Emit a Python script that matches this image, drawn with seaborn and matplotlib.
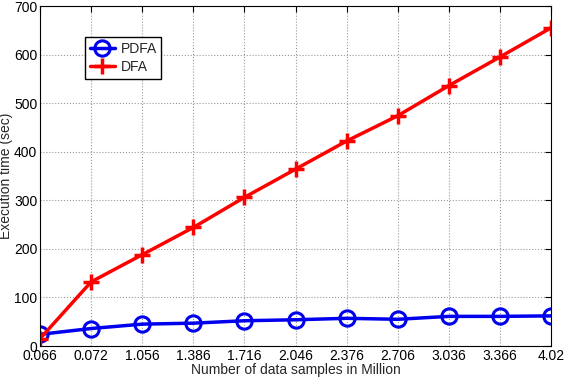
import matplotlib
matplotlib.use('Agg')
import matplotlib.pyplot as plt
import pandas as pd
import seaborn as sns

# Data
samples = ['0.066', '0.072', '1.056', '1.386', '1.716', '2.046',
           '2.376', '2.706', '3.036', '3.366', '4.02']
pdfa = [24, 36, 45, 47, 52, 54, 57, 55, 61, 61, 62]
dfa = [15, 132, 188, 244, 306, 364, 422, 474, 536, 595, 655]

df = pd.DataFrame({
    'pos': list(range(len(samples))) * 2,
    'time': pdfa + dfa,
    'method': ['PDFA'] * len(samples) + ['DFA'] * len(samples),
})

sns.set_style('white')
plt.rcParams['font.family'] = ['Liberation Sans', 'DejaVu Sans']

fig = plt.figure(figsize=(5.64, 3.78), dpi=100)
ax = fig.add_axes([40 / 564, 32 / 378, 511 / 564, 340 / 378])

sns.lineplot(data=df[df['method'] == 'PDFA'], x='pos', y='time',
             color='#0000ee', linewidth=2.5, marker='o', markersize=11,
             markerfacecolor='none', markeredgecolor='#0000ee', markeredgewidth=2.2,
             label='PDFA', ax=ax)
sns.lineplot(data=df[df['method'] == 'DFA'], x='pos', y='time',
             color='#ff0000', linewidth=2.5, marker='+', markersize=12,
             markeredgecolor='#ff0000', markeredgewidth=2.5, label='DFA', ax=ax)

ax.set_xlim(0, len(samples) - 1)
ax.set_ylim(0, 700)
ax.set_xticks(range(len(samples)))
ax.set_xticklabels(samples)
ax.set_yticks(range(0, 701, 100))
ax.tick_params(axis='both', labelsize=10, direction='in', length=4,
               top=True, right=True, pad=2, colors='black')
ax.grid(True, linestyle=':', color='#999999', linewidth=0.8)
for s in ax.spines.values():
    s.set_color('black')
    s.set_linewidth(0.8)

ax.set_xlabel('Number of data samples in Million', fontsize=10, labelpad=0)
ax.set_ylabel('Execution time (sec)', fontsize=10)
ax.yaxis.set_label_coords(-0.052, 0.5)

ax.legend(loc='upper left', bbox_to_anchor=(0.088, 0.909), borderaxespad=0,
          fontsize=10, frameon=True, fancybox=False, edgecolor='black',
          framealpha=1, handlelength=1.8, handletextpad=0.4,
          borderpad=0.35, labelspacing=0.3)

fig.savefig('out.png', dpi=100)
